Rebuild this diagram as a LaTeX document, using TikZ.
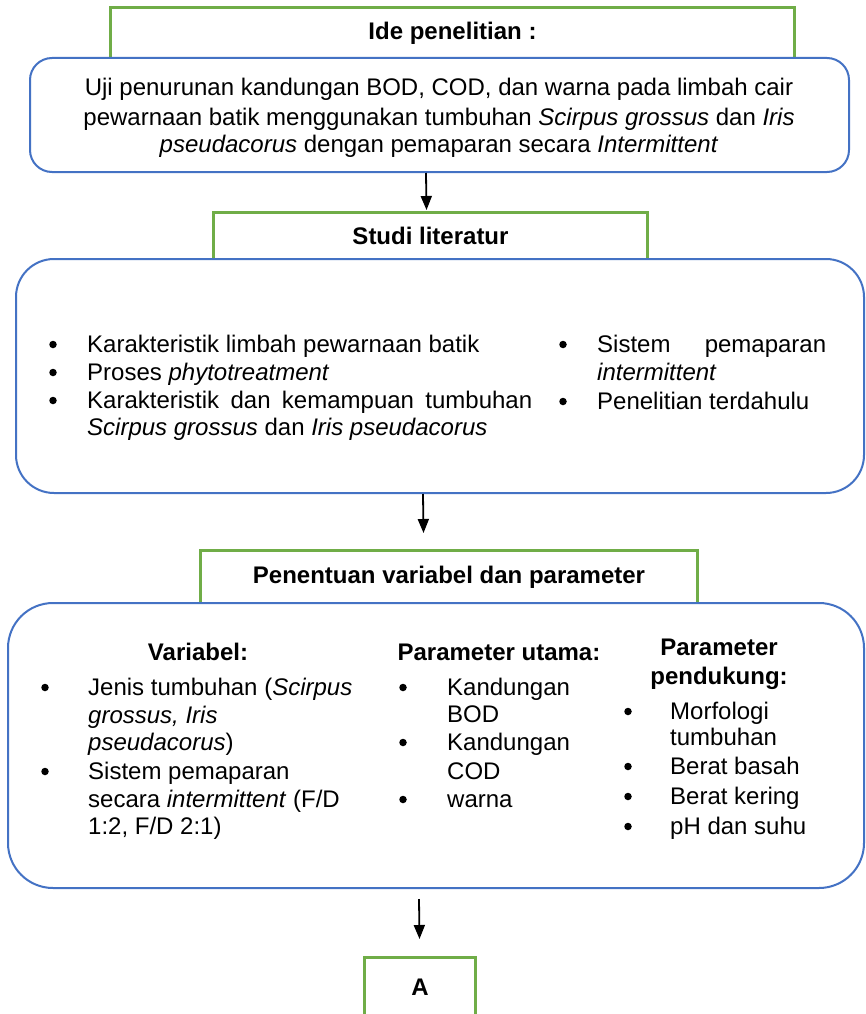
\documentclass[tikz,border=0pt]{standalone}
\usepackage{fontspec}
\setmainfont{Liberation Sans}
\usetikzlibrary{arrows.meta}
\definecolor{bblue}{HTML}{4472C4}
\definecolor{ggreen}{HTML}{70AD47}
\newcommand{\bodyfs}{\fontsize{24}{28.3}\selectfont}
\begin{document}
\begin{tikzpicture}[x=1pt,y=-1pt,
  greenbox/.style={draw=ggreen, line width=3pt, fill=white, inner sep=0pt, anchor=north west, font=\bodyfs\bfseries},
  bluebox/.style={draw=bblue, line width=2pt, fill=white, inner sep=0pt, anchor=north west, rounded corners=#1},
  txt/.style={anchor=base, inner sep=0pt, font=\bodyfs},
  hdr/.style={anchor=base, inner sep=0pt, font=\bodyfs\bfseries},
  itm/.style={anchor=base west, inner sep=0pt, font=\bodyfs},
  bul/.style={circle, fill=black, inner sep=0pt, minimum size=7.5pt, yshift=7.5pt},
  arr/.style={-{Triangle[width=11pt,length=14pt]}, line width=1.8pt}]
\useasboundingbox (0,0) rectangle (865,1014);
\clip (0,0) rectangle (865,1014);
% green header boxes
\node[greenbox, minimum width=684pt, minimum height=51pt] (g1) at (109,6) {Ide penelitian :};
\node[greenbox, minimum width=434pt, minimum height=47pt] (g2) at (212,211) {Studi literatur};
\node[greenbox, minimum width=497pt, minimum height=53pt] (g3) at (199,549) {Penentuan variabel dan parameter};
\node[greenbox, minimum width=111pt, minimum height=60pt] (gA) at (363,956) {A};
% blue boxes
\node[bluebox=22pt, minimum width=819pt, minimum height=114pt] (b1) at (29,57) {};
\node[bluebox=38pt, minimum width=848pt, minimum height=234pt] (b2) at (15,258) {};
\node[bluebox=45pt, minimum width=856pt, minimum height=285pt] (b3) at (7,602) {};
% box 1 text
\node[txt] (t1a) at (439,96) {Uji penurunan kandungan BOD, COD, dan warna pada limbah cair};
\node[txt] (t1b) at (439,125) {pewarnaan batik menggunakan tumbuhan \textit{Scirpus grossus} dan \textit{Iris}};
\node[txt] (t1c) at (439,153) {\textit{pseudacorus} dengan pemaparan secara \textit{Intermittent}};
% box 2 text
\node[bul] (u2a) at (53,352) {};
\node[bul] (u2b) at (53,380) {};
\node[bul] (u2c) at (53,408) {};
\node[itm] (l2a) at (87,352) {Karakteristik limbah pewarnaan batik};
\node[itm] (l2b) at (87,380) {Proses \textit{phytotreatment}};
\node[itm] (l2c) at (87,408) {\makebox[445pt][l]{Karakteristik\hfill dan\hfill kemampuan\hfill tumbuhan}};
\node[itm] (l2d) at (87,435) {\textit{Scirpus grossus} dan \textit{Iris pseudacorus}};
\node[bul] (u2d) at (563,352) {};
\node[bul] (u2e) at (563,409) {};
\node[itm] (r2a) at (597,352) {\makebox[229pt][l]{Sistem\hfill pemaparan}};
\node[itm] (r2b) at (597,380) {\textit{intermittent}};
\node[itm] (r2c) at (597,409) {Penelitian terdahulu};
% box 3 headers
\node[hdr] (h3a) at (198,660) {Variabel:};
\node[hdr] (h3b) at (499,660) {Parameter utama:};
\node[hdr] (h3c) at (719,655) {Parameter};
\node[hdr] (h3d) at (719,684) {pendukung:};
% Variabel
\node[bul] (v1) at (45,695) {};
\node[bul] (v2) at (45,779) {};
\node[itm] (va) at (88,695) {Jenis tumbuhan (\textit{Scirpus}};
\node[itm] (vb) at (88,723) {\textit{grossus, Iris}};
\node[itm] (vc) at (88,750) {\textit{pseudacorus})};
\node[itm] (vd) at (88,779) {Sistem pemaparan};
\node[itm] (ve) at (88,807) {secara \textit{intermittent} (F/D};
\node[itm] (vf) at (88,834) {1:2, F/D 2:1)};
% Parameter utama
\node[bul] (p1) at (403,695) {};
\node[bul] (p2) at (403,750) {};
\node[bul] (p3) at (403,807) {};
\node[itm] (pa) at (447,695) {Kandungan};
\node[itm] (pb) at (447,722) {BOD};
\node[itm] (pc) at (447,750) {Kandungan};
\node[itm] (pd) at (447,779) {COD};
\node[itm] (pe) at (447,807) {warna};
% Parameter pendukung
\node[bul] (q1) at (628,719) {};
\node[bul] (q2) at (628,774) {};
\node[bul] (q3) at (628,804) {};
\node[bul] (q4) at (628,834) {};
\node[itm] (qa) at (670,719) {Morfologi};
\node[itm] (qb) at (670,745) {tumbuhan};
\node[itm] (qc) at (670,774) {Berat basah};
\node[itm] (qd) at (670,804) {Berat kering};
\node[itm] (qe) at (670,834) {pH dan suhu};
% arrows
\draw[arr] ([xshift=-13.5pt]b1.south) -- ([xshift=-4pt,yshift=1pt]g2.north);
\draw[arr] ([xshift=-17pt]b2.south) -- ([xshift=-25.5pt,yshift=16pt]g3.north);
\draw[arr] ([xshift=-17pt,yshift=-10pt]b3.south) -- ([xshift=-0.5pt,yshift=17pt]gA.north);
\end{tikzpicture}
\end{document}
